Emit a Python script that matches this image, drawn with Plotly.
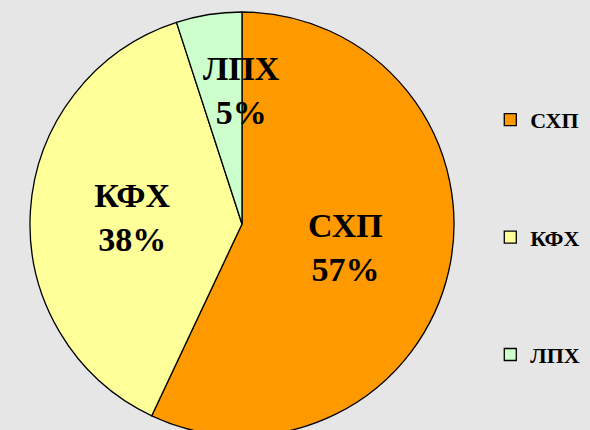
import plotly.graph_objects as go

labels = ["СХП", "КФХ", "ЛПХ"]
values = [57, 38, 5]
colors = ["#FF9900", "#FFFF99", "#CCFFCC"]

# blank lines after each legend entry (except the last) spread the legend out
legend_labels = [name + "<br> <br> <br> " for name in labels[:-1]] + [labels[-1]]

dom_x = [30 / 590, 454 / 590]
dom_y = [0, 1]
label_font = dict(family="Liberation Serif", size=34, color="black", weight="bold")

fig = go.Figure(
    go.Pie(
        labels=legend_labels,
        values=values,
        text=labels,
        texttemplate="%{text}<br>%{percent:.0%}",
        # the thin slice gets its label as an annotation further down
        textposition=["inside", "inside", "none"],
        insidetextorientation="horizontal",
        textfont=label_font,
        marker=dict(colors=colors, line=dict(color="black", width=1.3)),
        sort=False,
        direction="clockwise",
        rotation=0,
        hoverinfo="text+value",
        domain=dict(x=dom_x, y=dom_y),
    )
)

# label for the small slice, set above the centre like in the original
total = sum(values)
fig.add_annotation(
    text=f"{labels[2]}<br>{values[2] / total:.0%}",
    x=(dom_x[0] + dom_x[1]) / 2,
    y=(dom_y[0] + dom_y[1]) / 2 + 0.63 * 0.5,
    xref="paper",
    yref="paper",
    xanchor="center",
    yanchor="middle",
    showarrow=False,
    font=label_font,
)

fig.update_layout(
    width=590,
    height=436,
    margin=dict(l=0, r=0, t=12, b=0),
    paper_bgcolor="#e6e6e6",
    plot_bgcolor="#e6e6e6",
    uniformtext=dict(minsize=34, mode="show"),
    legend=dict(
        x=0.831,
        y=0.795,
        xanchor="left",
        yanchor="top",
        valign="top",
        font=dict(family="Liberation Serif", size=22, color="black", weight="bold"),
        bgcolor="rgba(0,0,0,0)",
    ),
)

# the pie runs past the bottom edge of the picture, so hide the scroll bars
fig.write_html(
    "out.html",
    config={"displayModeBar": False},
    post_script="document.body.style.margin='0';"
    "document.documentElement.style.overflow='hidden';"
    "document.body.style.overflow='hidden';",
)
